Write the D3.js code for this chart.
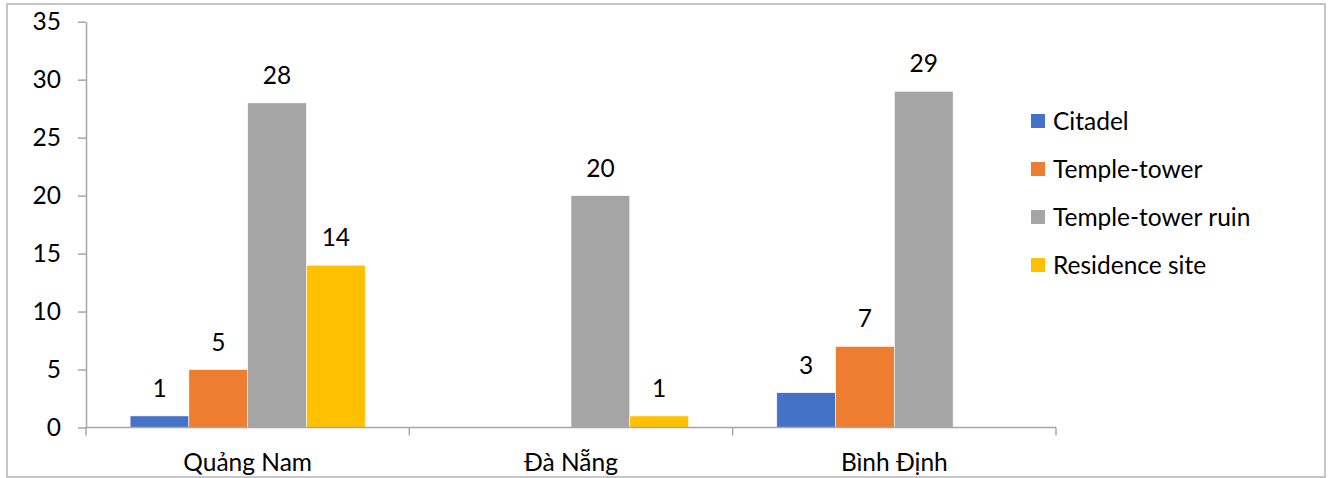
<!DOCTYPE html>
<html>
<head>
<meta charset="utf-8">
<script src="https://cdn.jsdelivr.net/npm/d3@7"></script>
<style>
  html, body { margin: 0; padding: 0; background: #fff; }
  svg { display: block; }
  text { font-family: Lato, "Open Sans", sans-serif; fill: #000; }
</style>
</head>
<body>
<svg id="chart" width="1331" height="478"></svg>
<script>
// Provinces along the x axis
const provinces = ["Quảng Nam", "Đà Nẵng", "Bình Định"];
// Site types (legend order)
const siteTypes = ["Citadel", "Temple-tower", "Temple-tower ruin", "Residence site"];
// Counts per site type, in province order (null = no bar)
const citadel = [1, null, 3];
const templeTower = [5, null, 7];
const templeTowerRuin = [28, 20, 29];
const residenceSite = [14, 1, null];
// Y axis ticks
const yTicks = [0, 5, 10, 15, 20, 25, 30, 35];

const seriesValues = [citadel, templeTower, templeTowerRuin, residenceSite];
const colors = ["#4472C4", "#ED7D31", "#A5A5A5", "#FFC000"];

const svg = d3.select("#chart");
const fontSize = 24.5;

// outer frame
svg.append("rect")
  .attr("x", 7).attr("y", 4).attr("width", 1318).attr("height", 473)
  .attr("fill", "none").attr("stroke", "#b4b4b4").attr("stroke-width", 1.5);

const plot = { left: 86, right: 1056, top: 21.7, bottom: 427.5 };

const x0 = d3.scaleBand().domain(provinces).range([plot.left, plot.right]).paddingInner(0).paddingOuter(0);
// 150% gap width: 4 bars + 1.5 bar widths of gap per group
const groupW = x0.bandwidth();
const barW = groupW / (siteTypes.length + 1.5);
const x1 = d3.scaleBand().domain(siteTypes)
  .range([barW * 0.75, barW * 0.75 + barW * siteTypes.length]).padding(0);

const y = d3.scaleLinear().domain([0, 35]).range([plot.bottom, plot.top]);

const axisColor = "#a6a6a6";

// y axis
const yAxis = svg.append("g").attr("transform", `translate(${plot.left},0)`)
  .call(d3.axisLeft(y).tickValues(yTicks).tickSize(8).tickPadding(17).tickSizeOuter(0));
yAxis.select(".domain").attr("stroke", axisColor).attr("stroke-width", 1.5);
yAxis.selectAll(".tick line").attr("stroke", axisColor).attr("stroke-width", 1.5);
yAxis.selectAll(".tick text").style("font-size", fontSize + "px").attr("fill", "#000")
  .style("font-family", "Lato, sans-serif");

// bars
const groups = svg.append("g").selectAll("g")
  .data(provinces).join("g")
  .attr("transform", d => `translate(${x0(d)},0)`);

groups.each(function(prov, pi) {
  const g = d3.select(this);
  const rows = siteTypes.map((s, si) => ({ s, si, v: seriesValues[si][pi] }))
    .filter(d => d.v !== null);
  g.selectAll("rect").data(rows).join("rect")
    .attr("x", d => x1(d.s))
    .attr("width", x1.bandwidth())
    .attr("y", d => y(d.v))
    .attr("height", d => y(0) - y(d.v))
    .attr("fill", d => colors[d.si])
    .attr("stroke", "#fff").attr("stroke-width", 0.6);
  g.selectAll("text.val").data(rows).join("text")
    .attr("class", "val")
    .attr("x", d => x1(d.s) + x1.bandwidth() / 2)
    .attr("y", d => y(d.v) - 19)
    .attr("text-anchor", "middle")
    .style("font-size", fontSize + "px")
    .text(d => d.v);
});

// x axis
const xAxis = svg.append("g").attr("transform", `translate(0,${plot.bottom})`)
  .call(d3.axisBottom(x0).tickSize(0).tickPadding(26));
xAxis.select(".domain").remove();
xAxis.append("line").attr("x1", plot.left).attr("x2", plot.right)
  .attr("stroke", axisColor).attr("stroke-width", 1.5);
xAxis.selectAll(".sep").data(d3.range(provinces.length + 1)).join("line")
  .attr("class", "sep")
  .attr("x1", i => plot.left + i * groupW).attr("x2", i => plot.left + i * groupW)
  .attr("y1", 0).attr("y2", 8)
  .attr("stroke", axisColor).attr("stroke-width", 1.5);
xAxis.selectAll(".tick text").style("font-size", fontSize + "px").attr("fill", "#000")
  .style("font-family", "Lato, sans-serif");

// legend
const legend = svg.append("g").attr("transform", "translate(1031,121)");
const items = legend.selectAll("g").data(siteTypes).join("g")
  .attr("transform", (d, i) => `translate(0,${i * 48})`);
items.append("rect").attr("x", 0).attr("y", -7).attr("width", 14).attr("height", 14)
  .attr("fill", (d, i) => colors[i]);
items.append("text").attr("x", 22).attr("y", 0).attr("dy", "0.35em")
  .style("font-size", fontSize + "px").text(d => d);
</script>
</body>
</html>
